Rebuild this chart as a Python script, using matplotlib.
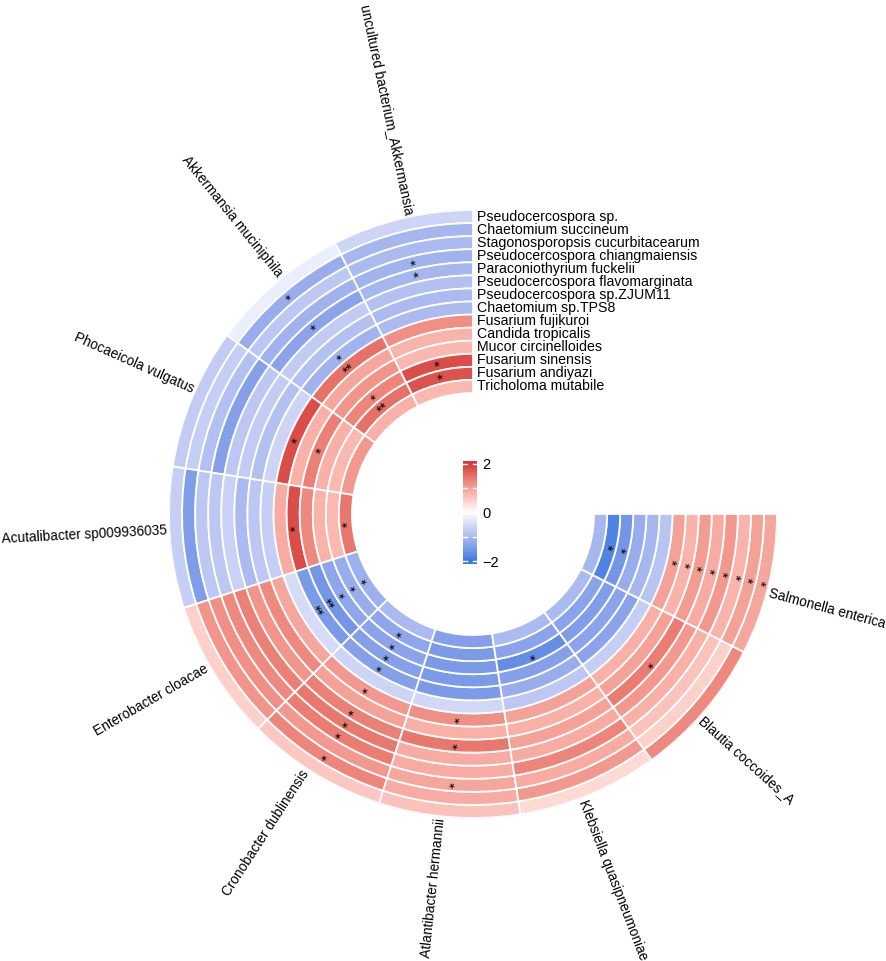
import numpy as np
import matplotlib.pyplot as plt
from matplotlib.colors import ListedColormap, Normalize, to_rgb

# sectors (bacteria), counter-clockwise from 12 o'clock
bacteria = ["uncultured bacterium_Akkermansia", "Akkermansia muciniphila",
            "Phocaeicola vulgatus", "Acutalibacter sp009936035",
            "Enterobacter cloacae", "Cronobacter dublinensis",
            "Atlantibacter hermannii", "Klebsiella quasipneumoniae",
            "Blautia coccoides_A", "Salmonella enterica"]

# tracks (fungi), outermost first
fungi = ["Pseudocercospora sp.", "Chaetomium succineum",
         "Stagonosporopsis cucurbitacearum", "Pseudocercospora chiangmaiensis",
         "Paraconiothyrium fuckelii", "Pseudocercospora flavomarginata",
         "Pseudocercospora sp.ZJUM11", "Chaetomium sp.TPS8",
         "Fusarium fujikuroi", "Candida tropicalis", "Mucor circinelloides",
         "Fusarium sinensis", "Fusarium andiyazi", "Tricholoma mutabile"]

# correlation values per bacterium (one value per fungus track)
uncultured_akk = [-0.6, -1.05, -1.0, -1.1, -1.05, -0.9, -1.0, -1.0, 1.2, 0.8, 0.75, 1.85, 1.8, 0.75]
akk_muciniphila = [-0.25, -1.2, -0.8, -1.1, -1.35, -0.75, -0.9, -1.1, 1.5, 0.95, 1.15, 1.3, 1.5, 0.85]
phoc_vulgatus = [-0.75, -0.7, -0.9, -1.4, -0.8, -0.75, -0.9, -0.6, 1.85, 0.85, 1.35, 0.85, 0.75, 1.1]
acutalibacter = [-0.7, -1.45, -0.8, -0.8, -0.65, -1.0, -0.8, -0.7, 0.9, 1.85, 1.25, 0.8, 0.75, 1.45]
ent_cloacae = [0.5, 1.15, 1.2, 1.25, 1.35, 1.15, 1.25, 0.95, -0.5, -1.5, -1.55, -1.3, -1.2, -1.15]
cro_dublinensis = [0.6, 1.3, 1.1, 1.4, 1.45, 1.35, 1.0, 1.1, -0.6, -1.4, -1.4, -1.35, -1.3, -1.0]
atl_hermannii = [0.65, 0.9, 0.95, 0.9, 0.9, 1.45, 0.85, 1.2, -0.55, -1.5, -1.5, -1.5, -1.5, -1.4]
kleb_quasipn = [0.4, 1.1, 0.9, 1.3, 0.9, 1.0, 0.85, 1.0, -0.8, -1.2, -1.4, -1.7, -1.35, -1.0]
blautia = [1.25, 0.5, 0.65, 0.85, 1.1, 1.4, 1.0, 0.85, -0.7, -1.35, -1.35, -1.45, -1.35, -1.0]
salmonella = [0.95, 1.0, 0.8, 1.1, 0.9, 1.05, 0.8, 1.0, -0.85, -1.05, -1.2, -1.55, -1.85, -1.05]

# number of significance stars per cell
stars_uncultured = [0, 0, 0, 1, 1, 0, 0, 0, 0, 0, 0, 1, 1, 0]
stars_akk = [0, 1, 0, 0, 1, 0, 0, 1, 2, 0, 0, 1, 2, 0]
stars_phoc = [0, 0, 0, 0, 0, 0, 0, 0, 1, 0, 1, 0, 0, 0]
stars_acut = [0, 0, 0, 0, 0, 0, 0, 0, 0, 1, 0, 0, 0, 1]
stars_ent = [0, 0, 0, 0, 0, 0, 0, 0, 0, 2, 2, 1, 1, 1]
stars_cro = [0, 1, 0, 1, 1, 1, 0, 1, 0, 1, 1, 1, 1, 0]
stars_atl = [0, 0, 1, 0, 0, 1, 0, 1, 0, 0, 0, 0, 0, 0]
stars_kleb = [0, 0, 0, 0, 0, 0, 0, 0, 0, 0, 0, 1, 0, 0]
stars_blautia = [0, 0, 0, 0, 0, 1, 0, 0, 0, 0, 0, 0, 0, 0]
stars_salm = [1, 1, 1, 1, 1, 1, 1, 1, 0, 0, 0, 1, 1, 0]

values = [uncultured_akk, akk_muciniphila, phoc_vulgatus, acutalibacter, ent_cloacae,
          cro_dublinensis, atl_hermannii, kleb_quasipn, blautia, salmonella]
stars = [stars_uncultured, stars_akk, stars_phoc, stars_acut, stars_ent,
         stars_cro, stars_atl, stars_kleb, stars_blautia, stars_salm]

FONT = ["Liberation Sans", "DejaVu Sans"]
plt.rcParams["font.family"] = FONT

# geometry in pixels (figure is 886 x 961 at dpi 100)
W, H = 886, 961
CX, CY = 473, 514
R_OUT, R_IN = 304, 121
START, SPAN = 90.0, 270.0
LABEL_SHIFT = -1.5  # sector names sit a little clockwise of the sector middle


# colour ramp -2 / 0 / 2 interpolated in LAB space (like circlize colorRamp2)
def to_lab(c):
    rgb = np.array(to_rgb(c))
    lin = np.where(rgb <= 0.04045, rgb / 12.92, ((rgb + 0.055) / 1.055) ** 2.4)
    m = np.array([[0.4124, 0.3576, 0.1805], [0.2126, 0.7152, 0.0722], [0.0193, 0.1192, 0.9505]])
    xyz = m @ lin / np.array([0.95047, 1.0, 1.08883])
    f = np.where(xyz > 0.008856, np.cbrt(xyz), 7.787 * xyz + 16 / 116)
    return np.array([116 * f[1] - 16, 500 * (f[0] - f[1]), 200 * (f[1] - f[2])])


def from_lab(lab):
    fy = (lab[0] + 16) / 116
    f = np.array([fy + lab[1] / 500, fy, fy - lab[2] / 200])
    xyz = np.where(f ** 3 > 0.008856, f ** 3, (f - 16 / 116) / 7.787) * np.array([0.95047, 1.0, 1.08883])
    m = np.array([[3.2406, -1.5372, -0.4986], [-0.9689, 1.8758, 0.0415], [0.0557, -0.2040, 1.0570]])
    lin = np.clip(m @ xyz, 0, 1)
    rgb = np.where(lin <= 0.0031308, 12.92 * lin, 1.055 * lin ** (1 / 2.4) - 0.055)
    return np.clip(rgb, 0, 1)


ramp_cols = ["#3A7BDF", "#FFFFFF", "#D43C3C"]
labs = [to_lab(c) for c in ramp_cols]
cols = []
for v in np.linspace(-2, 2, 256):
    if v <= 0:
        t = (v + 2) / 2
        lab = labs[0] * (1 - t) + labs[1] * t
    else:
        t = v / 2
        lab = labs[1] * (1 - t) + labs[2] * t
    cols.append(from_lab(lab))
cmap = ListedColormap(cols)
norm = Normalize(-2, 2)

fig = plt.figure(figsize=(W / 100, H / 100), dpi=100)
ax = fig.add_axes([(CX - R_OUT) / W, 1 - (CY + R_OUT) / H, 2 * R_OUT / W, 2 * R_OUT / H],
                  projection="polar")
ax.set_ylim(0, R_OUT)
ax.axis("off")

n_sec = len(bacteria)
n_trk = len(fungi)
sec_w = SPAN / n_sec
trk_w = (R_OUT - R_IN) / n_trk

for s, name in enumerate(bacteria):
    a_mid = START + sec_w * (s + 0.5)
    th = np.deg2rad(a_mid)
    bottoms = [R_OUT - trk_w * (t + 1) for t in range(n_trk)]
    ax.bar([th] * n_trk, [trk_w] * n_trk, width=np.deg2rad(sec_w), bottom=bottoms,
           color=cmap(norm(np.array(values[s]))), edgecolor="white", linewidth=1.3)
    for t in range(n_trk):
        if stars[s][t]:
            rc = R_OUT - trk_w * (t + 0.5) - 3
            ax.text(th, rc, "*" * stars[s][t], rotation=a_mid - 90, rotation_mode="anchor",
                    ha="center", va="center", fontsize=10.5, color="black")
    # sector label, radial
    a_lab = a_mid + LABEL_SHIFT
    if a_lab <= 270:
        rot, ha = a_lab - 180, "right"
    else:
        rot, ha = a_lab - 360, "left"
    ax.text(np.deg2rad(a_lab), R_OUT + 2.5, name, rotation=rot, rotation_mode="anchor",
            ha=ha, va="center", fontsize=9.8)

# track labels at the start of the circle
for t, name in enumerate(fungi):
    rc = R_OUT - trk_w * (t + 0.5)
    ax.annotate(name, xy=(np.pi / 2, rc), xytext=(3, 0), textcoords="offset points",
                ha="left", va="center", fontsize=10.2, annotation_clip=False)

# colour legend
cax = fig.add_axes([463 / W, 1 - 564 / H, 14 / W, 103 / H])
cax.imshow(np.linspace(2.12, -2.12, 200)[:, None], cmap=cmap, norm=norm,
           aspect="auto", extent=[0, 1, -2.12, 2.12])
for v in [-2, -1, 0, 1, 2]:
    cax.plot([0, 0.28], [v, v], color="white", lw=1)
    cax.plot([0.72, 1], [v, v], color="white", lw=1)
cax.set_xlim(0, 1)
cax.set_ylim(-2.12, 2.12)
cax.set_xticks([])
cax.set_yticks([2, 0, -2])
cax.set_yticklabels(["2", "0", "\u22122"])
cax.yaxis.tick_right()
cax.tick_params(length=0, pad=4, labelsize=10.5)
for sp in cax.spines.values():
    sp.set_visible(False)

fig.savefig("out.png", dpi=100)
